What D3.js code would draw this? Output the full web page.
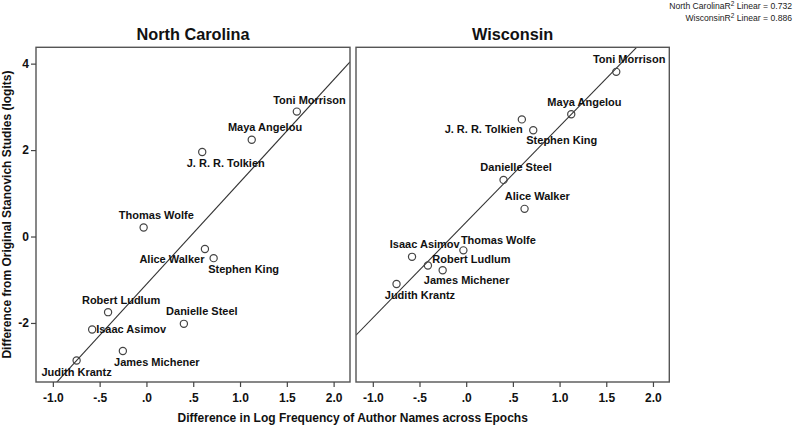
<!DOCTYPE html>
<html><head><meta charset="utf-8">
<script src="https://cdn.jsdelivr.net/npm/d3@7/dist/d3.min.js"></script>
<style>body{margin:0;background:#fff;} svg{display:block;font-family:"Liberation Sans",Arial,sans-serif;}</style>
</head><body>
<svg id="c" width="800" height="426"></svg>
<script>
// ---- data ----
const authors = ["Toni Morrison","Maya Angelou","J. R. R. Tolkien","Thomas Wolfe","Alice Walker","Stephen King","Robert Ludlum","Danielle Steel","Isaac Asimov","James Michener","Judith Krantz"];
const logFreqDiff = [1.607, 1.125, 0.596, -0.03, 0.625, 0.718, -0.41, 0.40, -0.58, -0.252, -0.746];
const ncDiff = [2.89, 2.24, 1.955, 0.21, -0.29, -0.50, -1.75, -2.02, -2.15, -2.65, -2.87];
const wiDiff = [3.81, 2.83, 2.71, -0.32, 0.64, 2.46, -0.67, 1.31, -0.47, -0.78, -1.10];
const panelTitles = ["North Carolina","Wisconsin"];
const xTicks = [-1.0, -0.5, 0.0, 0.5, 1.0, 1.5, 2.0];
const xTickLabels = ["-1.0","-.5",".0",".5","1.0","1.5","2.0"];
const yTicks = [-2, 0, 2, 4];
const yTickLabels = ["-2","0","2","4"];
const xTitle = "Difference in Log Frequency of Author Names across Epochs";
const yTitle = "Difference from Original Stanovich Studies (logits)";

// ---- layout (label offsets in px, not data) ----
const ncLabelOffsets = [[12.6,-8],[13.3,-9],[23.5,14.7],[12.7,-8],[-33,14.3],[30,14.7],[13,-8],[18,-8.7],[39,4],[34,14.7],[0,15]];
const wiLabelOffsets = [[12.9,-8.4],[13.2,-8.6],[-38.2,14],[35,-6.3],[12.8,-8.7],[28.5,14],[43.5,-2],[12.6,-8.7],[12.7,-8.7],[24,13.7],[23.4,15]];

const svg = d3.select("#c");
const plotTop = 47.3, plotBottom = 382;
const panels = [
  {x0:36, x1:350, ys: ncDiff, offs: ncLabelOffsets, title: panelTitles[0]},
  {x0:356, x1:669.3, ys: wiDiff, offs: wiLabelOffsets, title: panelTitles[1]}
];
const y = d3.scaleLinear().domain([-3.366, 4.378]).range([plotBottom, plotTop]);

function fit(xs, ys){
  const n = xs.length, mx = d3.mean(xs), my = d3.mean(ys);
  let sxy=0,sxx=0,syy=0;
  for(let i=0;i<n;i++){sxy+=(xs[i]-mx)*(ys[i]-my);sxx+=(xs[i]-mx)**2;syy+=(ys[i]-my)**2;}
  const b = sxy/sxx; return {b, a: my-b*mx, r2: sxy*sxy/(sxx*syy)};
}

const fits = [];
panels.forEach((p, pi) => {
  const x = d3.scaleLinear().domain([-1.18, 2.175]).range([p.x0, p.x1]);
  const g = svg.append("g");
  const clipId = "clip"+pi;
  svg.append("clipPath").attr("id", clipId).append("rect")
    .attr("x", p.x0).attr("y", plotTop).attr("width", p.x1-p.x0).attr("height", plotBottom-plotTop);
  const f = fit(logFreqDiff, p.ys); fits.push(f);
  const xd = x.domain();
  g.append("line").attr("clip-path", `url(#${clipId})`)
    .attr("x1", x(xd[0])).attr("y1", y(f.a+f.b*xd[0]))
    .attr("x2", x(xd[1])).attr("y2", y(f.a+f.b*xd[1]))
    .attr("stroke", "#333").attr("stroke-width", 1.1);
  g.selectAll("circle").data(authors).join("circle")
    .attr("cx", (d,i)=>x(logFreqDiff[i])).attr("cy", (d,i)=>y(p.ys[i]))
    .attr("r", 3.6).attr("fill", "none").attr("stroke", "#444").attr("stroke-width", 1.2);
  g.selectAll("text.lab").data(authors).join("text").attr("class","lab")
    .attr("x", (d,i)=>x(logFreqDiff[i])+p.offs[i][0]).attr("y", (d,i)=>y(p.ys[i])+p.offs[i][1])
    .attr("text-anchor","middle").attr("font-size", 11).attr("font-weight","bold").attr("fill","#111")
    .text(d=>d);
  g.append("rect").attr("x", p.x0).attr("y", plotTop).attr("width", p.x1-p.x0).attr("height", plotBottom-plotTop)
    .attr("fill","none").attr("stroke", "#555").attr("stroke-width", 1.4);
  const xa = g.append("g").attr("transform", `translate(0,${plotBottom})`)
    .call(d3.axisBottom(x).tickValues(xTicks).tickFormat((d,i)=>xTickLabels[i]).tickSize(5).tickPadding(6).tickSizeOuter(0));
  xa.select(".domain").remove();
  xa.selectAll("line").attr("stroke", "#444").attr("stroke-width", 1.2);
  xa.selectAll("text").attr("font-size", 12).attr("font-weight","bold").attr("fill","#111")
    .attr("font-family","Liberation Sans, Arial, sans-serif");
  g.append("text").attr("x", (p.x0+p.x1)/2).attr("y", 40).attr("text-anchor","middle")
    .attr("font-size", 16.3).attr("font-weight","bold").attr("fill","#111").text(p.title);
});

const ya = svg.append("g").attr("transform", "translate(36,0)")
  .call(d3.axisLeft(y).tickValues(yTicks).tickFormat((d,i)=>yTickLabels[i]).tickSize(5).tickPadding(2).tickSizeOuter(0));
ya.select(".domain").remove();
ya.selectAll("line").attr("stroke", "#444").attr("stroke-width", 1.2);
ya.selectAll("text").attr("font-size", 12).attr("font-weight","bold").attr("fill","#111")
  .attr("font-family","Liberation Sans, Arial, sans-serif");

svg.append("text").attr("x", 352.7).attr("y", 422).attr("text-anchor","middle")
  .attr("font-size", 12).attr("font-weight","bold").attr("fill","#111").text(xTitle);
svg.append("text").attr("transform", "translate(11.3,214.6) rotate(-90)").attr("text-anchor","middle")
  .attr("font-size", 12).attr("font-weight","bold").attr("fill","#111").text(yTitle);

const leg = svg.append("g").attr("font-size", 8.6).attr("fill", "#222");
panelTitles.forEach((t, i) => {
  const tx = leg.append("text").attr("x", 792).attr("y", 9 + 12*i).attr("text-anchor","end");
  tx.append("tspan").text(t + "R");
  tx.append("tspan").attr("dy", -3.5).attr("font-size", 6.5).text("2");
  tx.append("tspan").attr("dy", 3.5).text(" Linear = " + fits[i].r2.toFixed(3));
});
</script>
</body></html>
